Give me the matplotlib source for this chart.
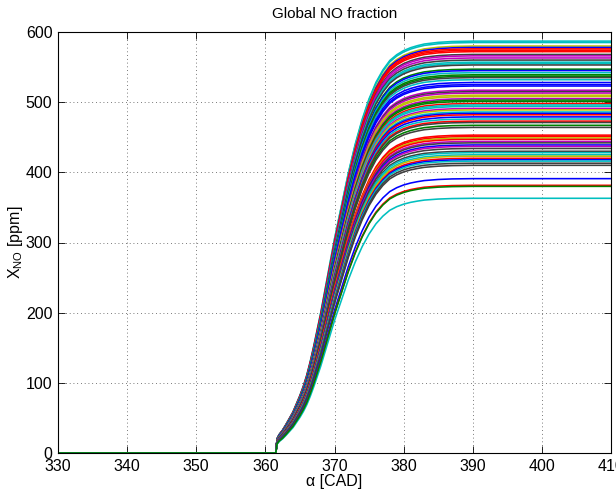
import numpy as np
import matplotlib
matplotlib.use("Agg")
import matplotlib.pyplot as plt

# Final (plateau) NO fraction of each curve [ppm], with its MATLAB colour code
plateau_ppm = [587, 585, 580, 578, 576, 574, 572, 568, 566, 563, 560, 557, 555, 553,
               547, 545, 542, 539, 537, 535, 532, 528, 525, 523, 517, 515, 513, 510,
               508, 505, 503, 501, 498, 496, 494, 491, 489, 486, 484, 482, 479, 476,
               473, 471, 467, 464, 453, 451, 449, 447, 444, 442, 439, 437, 434, 430,
               428, 425, 423, 420, 418, 416, 413, 410, 391, 381.5, 363, 380]
curve_colour = ['c', 'c', 'y', 'b', 'r', 'r', 'r', 'k', 'm', 'm', 'k', 'c', 'c', 'k',
                'g', 'b', 'c', 'g', 'g', 'k', 'c', 'b', 'b', 'b', 'm', 'k', 'm', 'y',
                'y', 'm', 'g', 'g', 'r', 'c', 'c', 'm', 'y', 'c', 'b', 'r', 'b', 'c',
                'r', 'k', 'g', 'k', 'r', 'r', 'y', 'r', 'm', 'k', 'b', 'm', 'k', 'k',
                'c', 'c', 'y', 'r', 'b', 'c', 'k', 'k', 'b', 'r', 'c', 'g']

# Normalised NO formation profile (fraction of plateau) vs crank angle [CAD]
profile_cad = [330, 361.5, 361.7, 362, 362.5, 363, 363.5, 364, 364.5, 365, 365.5, 366,
               366.5, 367, 367.5, 368, 368.5, 369, 369.5, 370, 370.5, 371, 371.5, 372,
               373, 374, 375, 376, 377, 378, 379, 380, 381, 382, 383, 384, 385, 387,
               390, 410]
profile_frac = [0, 0, 0.035, 0.045, 0.056, 0.07, 0.085, 0.10, 0.12, 0.14, 0.163, 0.19,
                0.223, 0.26, 0.30, 0.34, 0.385, 0.43, 0.475, 0.52, 0.56, 0.60, 0.64, 0.68,
                0.75, 0.81, 0.86, 0.90, 0.93, 0.953, 0.967, 0.977, 0.984, 0.989, 0.993,
                0.995, 0.997, 0.999, 1.0, 1.0]

x_ticks = [330, 340, 350, 360, 370, 380, 390, 400, 410]
y_ticks = [0, 100, 200, 300, 400, 500, 600]

colour_map = {
    'b': (0, 0, 1), 'g': (0, 0.5, 0), 'r': (1, 0, 0), 'c': (0, 0.75, 0.75),
    'm': (0.75, 0, 0.75), 'y': (0.75, 0.75, 0), 'k': (0.25, 0.25, 0.25),
}

plt.rcParams['font.family'] = ['Liberation Sans', 'DejaVu Sans']
plt.rcParams['mathtext.fontset'] = 'custom'
plt.rcParams['mathtext.rm'] = 'Liberation Sans'
plt.rcParams['mathtext.it'] = 'Liberation Sans:italic'

fig = plt.figure(figsize=(6.16, 4.95), dpi=100)
ax = fig.add_axes([58 / 616, 42 / 495, 553 / 616, 421 / 495])

cad = np.array(profile_cad)
frac = np.array(profile_frac)
for p, c in zip(plateau_ppm, curve_colour):
    ax.plot(cad, p * frac, color=colour_map[c], lw=1.15, solid_joinstyle='round')

ax.set_xlim(330, 410)
ax.set_ylim(0, 600)
ax.set_xticks(x_ticks)
ax.set_yticks(y_ticks)
ax.tick_params(direction='in', length=5, top=True, right=True, labelsize=11.5,
               width=0.6)
ax.tick_params(axis='x', pad=4)
ax.tick_params(axis='y', pad=4)
ax.grid(True, linestyle=(0, (1, 3.5)), color='0.3', linewidth=0.6)
for s in ax.spines.values():
    s.set_linewidth(0.8)
ax.set_title('Global NO fraction', fontsize=11, pad=10)
ax.set_xlabel('α [CAD]', fontsize=11.5, labelpad=0)
ax.set_ylabel(r'X$_{\mathrm{NO}}$ [ppm]', fontsize=11.5)
ax.yaxis.set_label_coords(-0.06, 0.5)

fig.savefig('out.png', dpi=100)
